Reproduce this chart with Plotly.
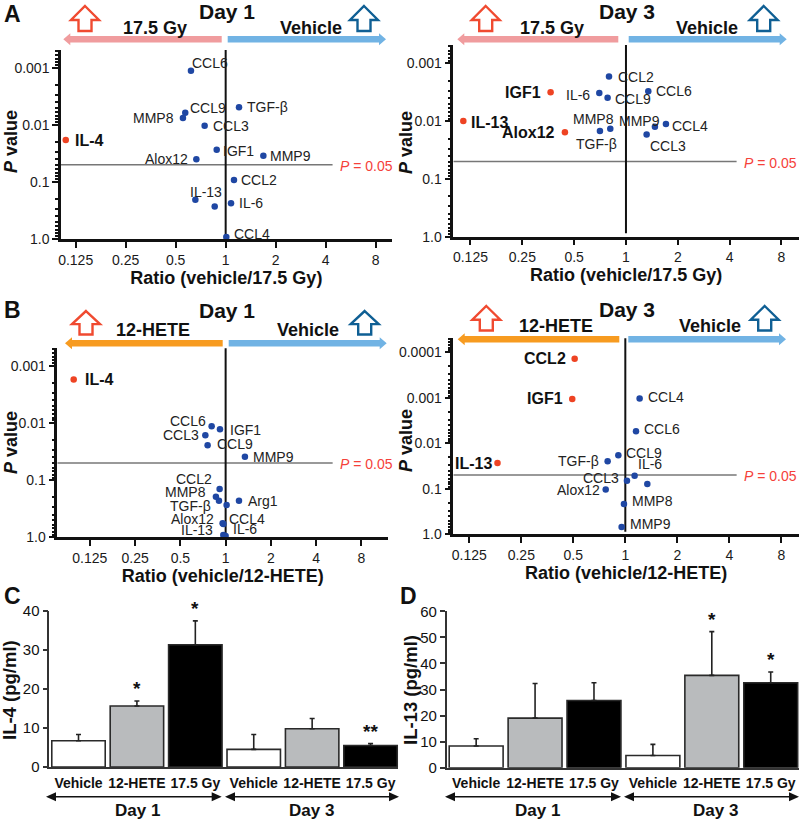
import math
import plotly.graph_objects as go

FONT = "Liberation Sans"
W, H = 800, 820

# ---------- data: volcano panels ----------
a1_names = ["IL-4", "CCL6", "CCL9", "MMP8", "TGF-β", "CCL3", "IGF1", "Alox12", "MMP9", "CCL2", "IL-13", "", "IL-6", "CCL4"]
a1_ratio = [0.109, 0.618, 0.571, 0.553, 1.203, 0.747, 0.883, 0.666, 1.686, 1.122, 0.657, 0.859, 1.077, 1.009]
a1_p = [0.0185, 0.00113, 0.00613, 0.0076, 0.00494, 0.01035, 0.0273, 0.0402, 0.0347, 0.0926, 0.205, 0.271, 0.237, 0.923]
a1_hits = ["IL-4"]

a3_names = ["IGF1", "IL-13", "Alox12", "CCL2", "IL-6", "CCL9", "CCL6", "MMP8", "TGF-β", "MMP9", "CCL4", "CCL3"]
a3_ratio = [0.365, 0.1136, 0.442, 0.797, 0.70, 0.782, 1.348, 0.811, 0.706, 1.473, 1.707, 1.318]
a3_p = [0.00317, 0.00995, 0.0156, 0.00168, 0.00326, 0.00393, 0.00305, 0.0135, 0.0148, 0.0125, 0.0112, 0.0171]
a3_hits = ["IGF1", "IL-13", "Alox12"]

b1_names = ["IL-4", "CCL6", "IGF1", "CCL3", "CCL9", "MMP9", "CCL2", "MMP8", "TGF-β", "Arg1", "", "Alox12", "CCL4", "IL-13", "IL-6"]
b1_ratio = [0.0976, 0.807, 0.917, 0.733, 0.759, 1.344, 0.912, 0.862, 0.903, 1.227, 1.015, 0.955, 0.966, 0.965, 1.0]
b1_p = [0.00173, 0.01138, 0.01284, 0.01635, 0.0245, 0.0387, 0.1424, 0.194, 0.228, 0.228, 0.272, 0.569, 0.584, 0.91, 0.948]
b1_hits = ["IL-4"]

b3_names = ["CCL2", "IGF1", "IL-13", "CCL4", "CCL6", "CCL9", "TGF-β", "IL-6", "CCL3", "", "Alox12", "MMP8", "MMP9"]
b3_ratio = [0.509, 0.493, 0.182, 1.21, 1.153, 0.911, 0.79, 1.132, 1.022, 1.341, 0.77, 0.982, 0.952]
b3_p = [0.000138, 0.00106, 0.027, 0.00104, 0.00545, 0.0184, 0.0249, 0.0514, 0.0662, 0.0783, 0.104, 0.215, 0.69]
b3_hits = ["CCL2", "IGF1", "IL-13"]

ratio_ticks = [0.125, 0.25, 0.5, 1, 2, 4, 8]
ratio_labels = ["0.125", "0.25", "0.5", "1", "2", "4", "8"]
p_ticks = [0.001, 0.01, 0.1, 1.0]
p_labels = ["0.001", "0.01", "0.1", "1.0"]
p_ticks_wide = [0.0001, 0.001, 0.01, 0.1, 1.0]
p_labels_wide = ["0.0001", "0.001", "0.01", "0.1", "1.0"]
P_CUT = 0.05

# ---------- data: bar panels ----------
bar_labels = ["Vehicle", "12-HETE", "17.5 Gy", "Vehicle", "12-HETE", "17.5 Gy"]
il4_values = [6.7, 15.6, 31.3, 4.5, 9.8, 5.5]
il4_errors = [1.6, 1.3, 6.1, 3.8, 2.6, 0.5]
il4_stars = ["", "*", "*", "", "", "**"]
il13_values = [8.3, 19.0, 25.8, 4.7, 35.4, 32.6]
il13_errors = [2.8, 13.3, 6.8, 4.25, 16.8, 4.1]
il13_stars = ["", "", "", "", "*", "*"]

# ---------- label placement (anchor, dx px, dy px) ----------
a1_place = [("l",7,0),("l",-1,-8),("l",3,-5),("r",-7,0),("l",6,0),("l",6,0),("l",4,1),("r",-6,0),("l",5,0),("l",5,0),("l",-7,-8),("l",0,0),("l",6,0),("l",6,-3)]
a3_place = [("r",-8,0),("l",6,1),("r",-8,0),("l",7,1),("r",-7,2),("l",5,1),("l",6,0),("r",6,-10),("r",19,13),("r",7,-6),("l",4,2),("l",1,11)]
b1_place = [("l",9,0),("r",-4,-5),("l",8,1),("r",-4,0),("l",7,-1),("l",6,0),("r",-6,-10),("r",-8,-5),("r",-6,5),("l",7,0),("l",0,0),("r",-7,-4),("l",4,-5),("r",-8,-5),("l",5,-7)]
b3_place = [("r",-7,0),("r",-7,0),("r",-4,1),("l",6,-2),("l",6,-2),("l",6,-2),("r",-7,0),("l",1,-12),("r",-6,-3),("l",0,0),("r",-4,0),("l",6,-3),("l",6,-3)]

BLUE, RED = "#1f47a3", "#ee4323"
PINK, SKY, ORANGE = "#f09c9e", "#71b3e4", "#f79b20"
UP_RED, UP_BLUE = "#f04a30", "#0f5f94"

fx = lambda x: x / W
fy = lambda y: 1 - y / H
L10 = math.log10

fig = go.Figure()
layout = dict(
    template="none",
    width=W, height=H, autosize=False, margin=dict(l=0, r=0, t=0, b=0),
    paper_bgcolor="white", plot_bgcolor="white", showlegend=False,
    font=dict(family=FONT, size=14, color="#1a1a1a"),
)
shapes, annots = [], []


def ptext(x, y, text, size, bold=True, color="#111", anchor="center", angle=0):
    annots.append(dict(xref="paper", yref="paper", x=fx(x), y=fy(y), text=f"<b>{text}</b>" if bold else text,
                       showarrow=False, xanchor=anchor, yanchor="middle", textangle=angle,
                       font=dict(family=FONT, size=size, color=color)))


def poly(points, fill, line=None, lw=0):
    path = "M" + " L".join(f"{fx(a):.5f},{fy(b):.5f}" for a, b in points) + " Z"
    shapes.append(dict(type="path", xref="paper", yref="paper", path=path, fillcolor=fill,
                       line=dict(color=line or fill, width=lw)))


def band_arrow(x_base, x_tip, y, color):
    s = 1 if x_tip > x_base else -1
    neck = x_tip - s * 7
    poly([(x_base, y - 3.3), (neck, y - 3.3), (neck, y - 6), (x_tip, y), (neck, y + 6), (neck, y + 3.3), (x_base, y + 3.3)], color)


def up_arrow(cx, top, bottom, color):
    mid = top + (bottom - top) * 0.56
    poly([(cx, top), (cx + 14, mid), (cx + 6.5, mid), (cx + 6.5, bottom), (cx - 6.5, bottom), (cx - 6.5, mid), (cx - 14, mid)],
         "white", color, 2.4)


def double_arrow(x0, x1, y):
    poly([(x0 + 9, y - 0.8), (x1 - 9, y - 0.8), (x1 - 9, y + 0.8), (x0 + 9, y + 0.8)], "#111")
    poly([(x0, y), (x0 + 10, y - 4.5), (x0 + 10, y + 4.5)], "#111")
    poly([(x1, y), (x1 - 10, y - 4.5), (x1 - 10, y + 4.5)], "#111")


def volcano(n, names, ratio, p, hits, place, box, xr, yr, ticks, labels, vtop, vbot, h_end, xtitle, ytitle_at, x_standoff):
    xid, yid = f"x{n}", f"y{n}"
    l, t, r, b = box
    decades = range(int(math.floor(yr)), 0)
    minor = [m * 10.0 ** d for d in decades for m in range(2, 10) if L10(m * 10.0 ** d) > yr]
    layout[f"xaxis{n}"] = dict(
        type="log", domain=[fx(l), fx(r)], range=[xr[0] * L10(2), xr[1] * L10(2)], anchor=yid, automargin=False,
        tickmode="array", tickvals=ratio_ticks, ticktext=ratio_labels, ticks="outside", ticklen=6, tickwidth=2,
        tickcolor="#111", showgrid=False, zeroline=False, showline=True, linecolor="#111", linewidth=2.5,
        tickfont=dict(family=FONT, size=14, color="#1a1a1a"),
        title=dict(text=f"<b>{xtitle}</b>", standoff=x_standoff, font=dict(family=FONT, size=18, color="#111")),
    )
    layout[f"yaxis{n}"] = dict(
        type="log", domain=[fy(b), fy(t)], range=[0, yr], anchor=xid, automargin=False,
        tickmode="array", tickvals=ticks, ticktext=labels, ticks="outside", ticklen=6, tickwidth=2,
        tickcolor="#111", showgrid=False, zeroline=False, showline=True, linecolor="#111", linewidth=2.5,
        minor=dict(tickmode="array", tickvals=minor, ticks="outside", ticklen=3, tickwidth=1.5, tickcolor="#111"),
        tickfont=dict(family=FONT, size=14, color="#1a1a1a"),
    )
    ptext(ytitle_at[0], ytitle_at[1], "<i>P</i> value", 18, angle=-90)
    left = 10 ** (xr[0] * L10(2))
    fig.add_trace(go.Scatter(x=[left, h_end], y=[P_CUT, P_CUT], mode="lines", xaxis=xid, yaxis=yid,
                             line=dict(color="#777", width=1.5), hoverinfo="skip", cliponaxis=False))
    fig.add_trace(go.Scatter(x=[1, 1], y=[vtop, vbot], mode="lines", xaxis=xid, yaxis=yid,
                             line=dict(color="#111", width=2), hoverinfo="skip", cliponaxis=False))
    colors = [RED if nm in hits else BLUE for nm in names]
    fig.add_trace(go.Scatter(x=ratio, y=p, mode="markers", xaxis=xid, yaxis=yid, text=names, cliponaxis=False,
                             marker=dict(size=6.5, color=colors)))
    for nm, a, b_, pl in zip(ratio, p, names, place):
        if not b_:
            continue
        hit = b_ in hits
        annots.append(dict(xref=xid, yref=yid, x=L10(nm), y=L10(a), text=f"<b>{b_}</b>" if hit else b_,
                           showarrow=False, xanchor="left" if pl[0] == "l" else "right", yanchor="middle",
                           xshift=pl[1], yshift=-pl[2],
                           font=dict(family=FONT, size=16 if hit else 14, color="#111" if hit else "#222")))
    annots.append(dict(xref=xid, yref=yid, x=L10(h_end), y=L10(P_CUT), text="<i>P</i> = 0.05", showarrow=False,
                       xanchor="left", yanchor="middle", xshift=5, yshift=-1,
                       font=dict(family=FONT, size=14, color="#f5413a")))


def bars(n, values, errors, stars, box, xr, yr, dt, ytitle, ytitle_at):
    xid, yid = f"x{n}", f"y{n}"
    l, t, r, b = box
    layout[f"xaxis{n}"] = dict(
        domain=[fx(l), fx(r)], range=xr, anchor=yid, automargin=False, tickmode="array", tickvals=list(range(6)), ticktext=[f"<b>{s}</b>" for s in bar_labels],
        ticks="", showgrid=False, zeroline=False, showline=True, linecolor="#333", linewidth=1.5, ticklabelstandoff=2,
        tickfont=dict(family=FONT, size=14, color="#111"),
    )
    layout[f"yaxis{n}"] = dict(
        domain=[fy(b), fy(t)], range=yr, anchor=xid, automargin=False, tick0=0, dtick=dt, ticks="outside", ticklen=5, tickwidth=1.5,
        tickcolor="#333", showgrid=False, zeroline=False, showline=True, linecolor="#333", linewidth=1.5,
        tickfont=dict(family=FONT, size=15, color="#111"),
    )
    ptext(ytitle_at[0], ytitle_at[1], ytitle, 18.5, angle=-90)
    fig.add_trace(go.Bar(
        x=list(range(6)), y=values, width=0.915, xaxis=xid, yaxis=yid,
        marker=dict(color=["white", "#b9bbbd", "black"] * 2, line=dict(color="#2a2a2a", width=1.6)),
        error_y=dict(type="data", symmetric=False, array=errors, arrayminus=[0] * 6, color="#222", thickness=1.6, width=2.5),
    ))
    for i, s in enumerate(stars):
        if s:
            annots.append(dict(xref=xid, yref=yid, x=i, y=values[i] + errors[i], text=f"<b>{s}</b>", showarrow=False,
                               xanchor="center", yanchor="bottom", yshift=0, font=dict(family=FONT, size=19, color="#111")))


volcano(1, a1_names, a1_ratio, a1_p, a1_hits, a1_place, (61, 50, 391.7, 239), (-3.293, 3.32), -3.31,
        p_ticks, p_labels, 0.000458, 1.0, 4.4, "Ratio (vehicle/17.5 Gy)", (11, 142), 2)
volcano(2, a3_names, a3_ratio, a3_p, a3_hits, a3_place, (453.3, 45, 799, 236.7), (-3.331, 3.338), -3.318,
        p_ticks, p_labels, 0.000438, 0.875, 4.39, "Ratio (vehicle/17.5 Gy)", (406, 142), 2)
volcano(3, b1_names, b1_ratio, b1_p, b1_hits, b1_place, (57.3, 348.3, 388.3, 537.3), (-3.719, 3.594), -3.31,
        p_ticks, p_labels, 0.00044, 1.0, 5.15, "Ratio (vehicle/12-HETE)", (11, 443), 4)
volcano(4, b3_names, b3_ratio, b3_p, b3_hits, b3_place, (453.3, 338.3, 799, 534.3), (-3.308, 3.34), -4.308,
        p_ticks_wide, p_labels_wide, 0.0000416, 0.874, 4.41, "Ratio (vehicle/12-HETE)", (406, 440), 4)
bars(5, il4_values, il4_errors, il4_stars, (49.3, 610.7, 398.3, 767), (-0.5, 5.475), (0, 40), 10, "IL-4 (pg/ml)", (9, 690))
bars(6, il13_values, il13_errors, il13_stars, (446.7, 611.3, 799, 767.7), (-0.5, 5.48), (0, 60), 10, "IL-13 (pg/ml)", (410, 690))

# panel headers
ptext(12, 13.5, "A", 23)
ptext(12, 310, "B", 23)
ptext(12, 596, "C", 23)
ptext(408, 596, "D", 23)

ptext(227, 11, "Day 1", 21)
ptext(155, 28, "17.5 Gy", 18)
ptext(311, 28, "Vehicle", 18)
band_arrow(221.7, 63.3, 39.3, PINK)
band_arrow(227.7, 386, 39.3, SKY)
up_arrow(85, 6, 31, UP_RED)
up_arrow(364, 6, 31, UP_BLUE)

ptext(627.3, 11, "Day 3", 21)
ptext(551.7, 28, "17.5 Gy", 18)
ptext(706.7, 28, "Vehicle", 18)
band_arrow(618.3, 457.3, 39.3, PINK)
band_arrow(628.7, 786.7, 39.3, SKY)
up_arrow(485.7, 6, 31, UP_RED)
up_arrow(763.7, 6, 31, UP_BLUE)

ptext(227.3, 310, "Day 1", 21)
ptext(152.7, 330, "12-HETE", 18)
ptext(308, 330, "Vehicle", 18)
band_arrow(222.7, 65, 343.3, ORANGE)
band_arrow(228.7, 386.7, 343.3, SKY)
up_arrow(86, 311, 334.5, UP_RED)
up_arrow(364.7, 311, 334.5, UP_BLUE)

ptext(627.3, 309, "Day 3", 21)
ptext(556, 325.7, "12-HETE", 18)
ptext(709.7, 325.7, "Vehicle", 18)
band_arrow(619.3, 457.7, 339.3, ORANGE)
band_arrow(628.3, 786, 339.3, SKY)
up_arrow(486.3, 306, 330.5, UP_RED)
up_arrow(764.7, 306, 330.5, UP_BLUE)

# brackets below bars
double_arrow(46, 221.7, 796.7)
double_arrow(225, 399, 796.7)
ptext(137.7, 810, "Day 1", 17)
ptext(311, 810, "Day 3", 17)
double_arrow(445, 621, 796.7)
double_arrow(624, 799, 796.7)
ptext(537, 810, "Day 1", 17)
ptext(715, 810, "Day 3", 17)

layout["shapes"] = shapes
layout["annotations"] = annots
fig.update_layout(**layout)
fig.write_html("out.html", config={"displayModeBar": False},
               post_script="document.body.style.margin='0';")
